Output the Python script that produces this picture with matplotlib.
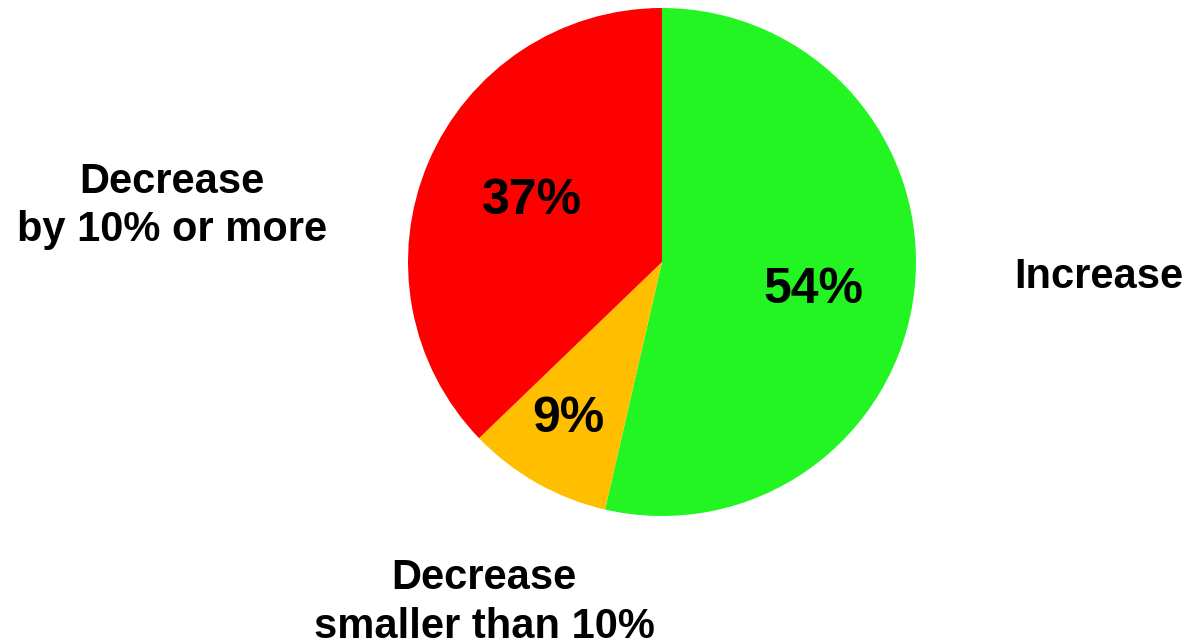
import matplotlib
matplotlib.use("Agg")
from matplotlib import pyplot as plt

plt.rcParams['font.family'] = ['Liberation Sans', 'DejaVu Sans']

categories = ["Increase", "Decrease\nsmaller than 10%", "Decrease\nby 10% or more"]
values = [53.6, 9.2, 37.2]
colors = ["#22f522", "#ffbf00", "#ff0000"]

# label positions (radius factors, relative to pie centre)
pct_pos = [(0.595, -0.11), (-0.37, -0.62), (-0.51, 0.24)]
label_pos = [(1.72, -0.06), (-0.70, -1.34), (-1.93, 0.22)]

fig = plt.figure(figsize=(11.91, 6.43), dpi=100)
W, H = 1191, 643
cx, cy, r = 662, 262, 254
ax = fig.add_axes([(cx - r) / W, (H - cy - r) / H, 2 * r / W, 2 * r / H])

wedges, texts, autotexts = ax.pie(values, colors=colors, startangle=90, counterclock=False,
                                  autopct='%.0f%%', radius=1.0,
                                  wedgeprops=dict(linewidth=0),
                                  textprops=dict(fontsize=36, fontweight='bold', color='black'))
for t, p in zip(autotexts, pct_pos):
    t.set_position(p)

for lab, p in zip(categories, label_pos):
    ax.text(p[0], p[1], lab, ha='center', va='center', fontsize=30, fontweight='bold',
            linespacing=1.27)

ax.set_xlim(-1, 1)
ax.set_ylim(-1, 1)
ax.set_aspect('equal')
ax.axis('off')

plt.savefig('out.png', dpi=100)
